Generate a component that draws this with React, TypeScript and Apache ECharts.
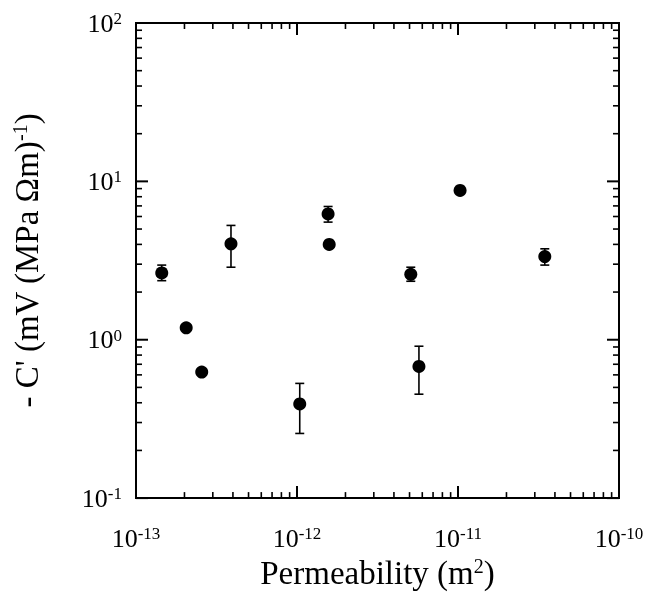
import React, { useEffect, useRef } from "react";
import * as echarts from "echarts";

// Permeability (m^2) and -C' values
const permeability = [1.445e-13, 2.05e-13, 2.56e-13, 3.89e-13, 1.04e-12, 1.56e-12, 1.585e-12, 5.09e-12, 5.72e-12, 1.03e-11, 3.46e-11];
const coefficient = [2.64, 1.19, 0.625, 4.03, 0.393, 6.23, 4.0, 2.59, 0.678, 8.77, 3.35];
const errLow: (number | null)[] = [2.36, null, 0.6, 2.87, 0.256, 5.53, null, 2.34, 0.453, null, 2.96];
const errHigh: (number | null)[] = [2.96, null, 0.655, 5.27, 0.53, 6.94, null, 2.87, 0.91, null, 3.75];

// Axis decades and minor-tick multipliers
const xDecades = [1e-13, 1e-12, 1e-11, 1e-10];
const yDecades = [1e-1, 1e0, 1e1, 1e2];
const minorMultipliers = [2, 3, 4, 5, 6, 7, 8, 9];

const FONT = "Liberation Serif";

export default function App() {
  const ref = useRef<HTMLDivElement>(null);

  useEffect(() => {
    if (!ref.current) return;
    const chart = echarts.init(ref.current, undefined, { renderer: "svg" });

    // tick items: [value, length]
    const xTicks: number[][] = [];
    xDecades.forEach((d, i) => {
      xTicks.push([d, 12]);
      if (i < xDecades.length - 1) minorMultipliers.forEach((m) => xTicks.push([d * m, 6]));
    });
    const yTicks: number[][] = [];
    yDecades.forEach((d, i) => {
      yTicks.push([d, 12]);
      if (i < yDecades.length - 1) minorMultipliers.forEach((m) => yTicks.push([d * m, 6]));
    });

    const errData = permeability
      .map((x, i) => (errLow[i] == null ? null : [x, errLow[i], errHigh[i]]))
      .filter((d) => d != null) as number[][];

    const blk = "#000";
    const labelRich = {
      b: { fontSize: 26, fontFamily: FONT, color: blk },
      s: { fontSize: 17, fontFamily: FONT, color: blk, verticalAlign: "top" },
    };
    const nameRich = {
      s: { fontSize: 20, fontFamily: FONT, color: blk, verticalAlign: "top" },
    };
    const fmt = (v: number) => `{b|10}{s|${Math.round(Math.log10(v))}}`;

    chart.setOption({
      animation: false,
      grid: { left: 136, right: 29, top: 23, bottom: 85, show: true, borderColor: blk, borderWidth: 2 },
      xAxis: {
        type: "log",
        min: 1e-13,
        max: 1e-10,
        splitLine: { show: false },
        axisLine: { show: true, lineStyle: { color: blk, width: 2 } },
        axisTick: { show: false },
        axisLabel: { margin: 27, fontFamily: FONT, fontSize: 26, color: blk, formatter: fmt, rich: labelRich },
        name: "Permeability (m{s|2})",
        nameLocation: "middle",
        nameGap: 56,
        nameTextStyle: { fontSize: 33, fontFamily: FONT, color: blk, rich: nameRich },
      },
      yAxis: {
        type: "log",
        min: 0.1,
        max: 100,
        splitLine: { show: false },
        axisLine: { show: true, lineStyle: { color: blk, width: 2 } },
        axisTick: { show: false },
        axisLabel: { margin: 14, fontFamily: FONT, fontSize: 26, color: blk, formatter: fmt, rich: labelRich },
        name: "- C' (mV (MPa \u03A9m){s|-1})",
        nameLocation: "middle",
        nameRotate: 90,
        nameGap: 93,
        nameTextStyle: { fontSize: 33, fontFamily: FONT, color: blk, rich: nameRich },
      },
      series: [
        {
          type: "scatter",
          symbol: "circle",
          symbolSize: 13,
          itemStyle: { color: blk, opacity: 1 },
          z: 5,
          data: permeability.map((x, i) => [x, coefficient[i]]),
        },
        {
          type: "custom",
          clip: false,
          silent: true,
          data: xTicks.map((t) => [t[0], 1, t[1]]),
          encode: { x: 0, y: 1 },
          renderItem: (params: any, api: any) => {
            const v = api.value(0);
            const len = api.value(2);
            const b = api.coord([v, 0.1]);
            const t = api.coord([v, 100]);
            const st = { stroke: blk, lineWidth: len > 8 ? 2 : 1.6 };
            return {
              type: "group",
              children: [
                { type: "line", shape: { x1: b[0], y1: b[1], x2: b[0], y2: b[1] - len }, style: st },
                { type: "line", shape: { x1: t[0], y1: t[1], x2: t[0], y2: t[1] + len }, style: st },
              ],
            };
          },
        },
        {
          type: "custom",
          clip: false,
          silent: true,
          data: yTicks.map((t) => [1e-12, t[0], t[1]]),
          encode: { x: 0, y: 1 },
          renderItem: (params: any, api: any) => {
            const v = api.value(1);
            const len = api.value(2);
            const l = api.coord([1e-13, v]);
            const r = api.coord([1e-10, v]);
            const st = { stroke: blk, lineWidth: len > 8 ? 2 : 1.6 };
            return {
              type: "group",
              children: [
                { type: "line", shape: { x1: l[0], y1: l[1], x2: l[0] + len, y2: l[1] }, style: st },
                { type: "line", shape: { x1: r[0], y1: r[1], x2: r[0] - len, y2: r[1] }, style: st },
              ],
            };
          },
        },
        {
          type: "custom",
          clip: false,
          silent: true,
          data: errData,
          encode: { x: 0, y: [1, 2] },
          renderItem: (params: any, api: any) => {
            const x = api.value(0);
            const lo = api.coord([x, api.value(1)]);
            const hi = api.coord([x, api.value(2)]);
            const st = { stroke: blk, lineWidth: 1.6 };
            const cw = 4.5;
            return {
              type: "group",
              children: [
                { type: "line", shape: { x1: lo[0], y1: lo[1], x2: hi[0], y2: hi[1] }, style: st },
                { type: "line", shape: { x1: lo[0] - cw, y1: lo[1], x2: lo[0] + cw, y2: lo[1] }, style: st },
                { type: "line", shape: { x1: hi[0] - cw, y1: hi[1], x2: hi[0] + cw, y2: hi[1] }, style: st },
              ],
            };
          },
        },
      ],
    });

    return () => chart.dispose();
  }, []);

  return <div ref={ref} style={{ position: "fixed", left: 0, top: 0, width: 648, height: 594 }} />;
}
